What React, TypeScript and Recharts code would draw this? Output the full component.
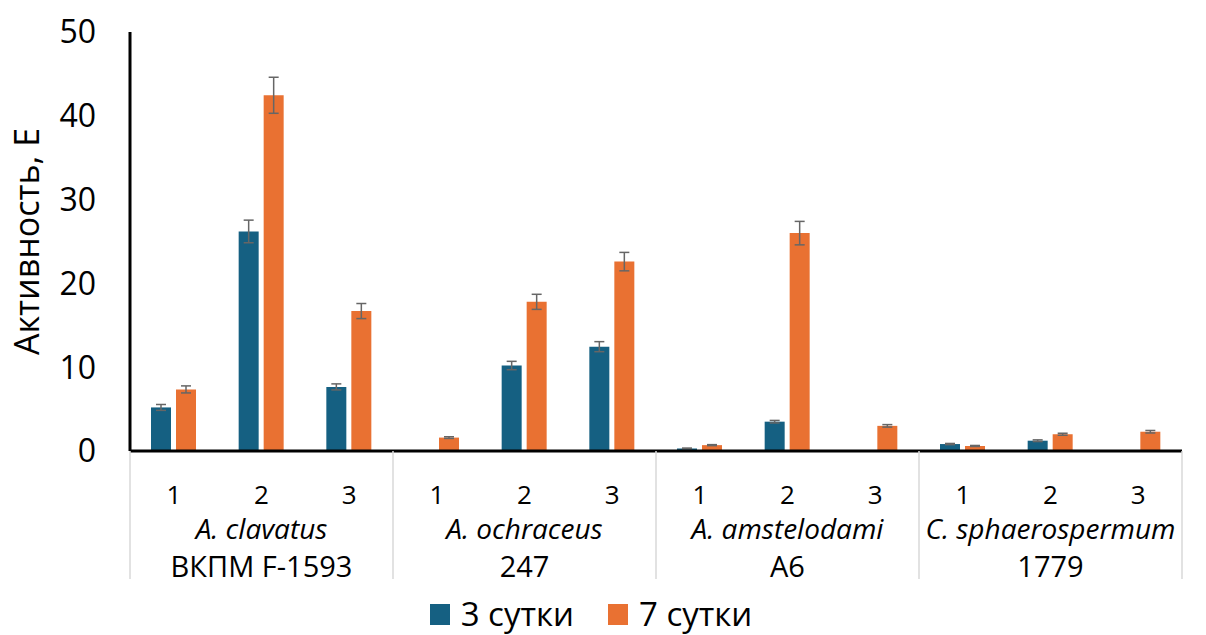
import React from 'react';
import { BarChart, Bar, XAxis, YAxis, ErrorBar, Legend } from 'recharts';

const categories = ['1', '2', '3', '1', '2', '3', '1', '2', '3', '1', '2', '3'];
const species = ['A. clavatus', 'A. ochraceus', 'A. amstelodami', 'C. sphaerospermum'];
const strains = ['ВКПМ F-1593', '247', 'A6', '1779'];
const day3 = [5.2, 26.2, 7.65, null, 10.2, 12.45, 0.3, 3.5, null, 0.83, 1.23, null];
const day3Err = [0.35, 1.35, 0.36, null, 0.5, 0.6, 0.05, 0.15, null, 0.07, 0.1, null];
const day7 = [7.35, 42.45, 16.7, 1.6, 17.8, 22.6, 0.7, 26.0, 3.0, 0.6, 2.0, 2.3];
const day7Err = [0.42, 2.15, 0.9, 0.1, 0.9, 1.1, 0.06, 1.4, 0.15, 0.06, 0.12, 0.15];
const yTicks = [0, 10, 20, 30, 40, 50];
const seriesNames = ['3 сутки', '7 сутки'];

const BLUE = '#156082';
const ORANGE = '#E97132';
const ERR = '#666666';
const FONT = "'Open Sans', 'Liberation Sans', Arial, sans-serif";

const data = categories.map((c, i) => ({
  key: `g${Math.floor(i / 3)}-${c}`,
  label: c,
  d3: day3[i],
  e3: day3Err[i],
  d7: day7[i],
  e7: day7Err[i],
}));

const XTick = (props: any) => {
  const { x, y, payload, index } = props;
  const i = typeof index === 'number' ? index : payload.index;
  const half = payload && typeof payload.offset === 'number' ? payload.offset : 0;
  const g = Math.floor(i / 3);
  const els: any[] = [];
  els.push(
    <text key="n" x={x} y={y + 53} textAnchor="middle" fontSize={26} fill="#000" fontFamily={FONT}>
      {categories[i]}
    </text>
  );
  if (i % 3 === 0) {
    els.push(<line key="s" x1={x - half} x2={x - half} y1={y} y2={y + 128} stroke="#d9d9d9" strokeWidth={1.5} />);
  }
  if (i === categories.length - 1) {
    els.push(<line key="e" x1={x + half} x2={x + half} y1={y} y2={y + 128} stroke="#d9d9d9" strokeWidth={1.5} />);
  }
  if (i % 3 === 1) {
    els.push(
      <text key="sp" x={x} y={y + 88} textAnchor="middle" fontSize={28} fontStyle="italic" fill="#000" fontFamily={FONT}>
        {species[g]}
      </text>
    );
    els.push(
      <text key="st" x={x} y={y + 126} textAnchor="middle" fontSize={29} fill="#000" fontFamily={FONT}>
        {strains[g]}
      </text>
    );
  }
  return <g>{els}</g>;
};

const YTitle = (props: any) => {
  const vb = props.viewBox || { x: 0, y: 32, width: 130, height: 419 };
  const cx = vb.x + 39;
  const cy = vb.y + vb.height / 2;
  return (
    <text x={cx} y={cy} transform={`rotate(-90, ${cx}, ${cy})`} textAnchor="middle" fontSize={34} fill="#000" fontFamily={FONT}>
      Активность, Е
    </text>
  );
};

const LegendContent = (props: any) => {
  const payload = props.payload || [];
  return (
    <div style={{ display: 'flex', justifyContent: 'center', alignItems: 'flex-start', height: 44, fontFamily: FONT, boxSizing: 'border-box', paddingTop: 4 }}>
      {payload.map((p: any, i: number) => (
        <div key={i} style={{ display: 'flex', alignItems: 'center', marginRight: i === 0 ? 34 : 0, height: 38 }}>
          <div style={{ width: 20, height: 21, background: p.color, marginRight: 11 }} />
          <span style={{ fontSize: 33, color: '#000', lineHeight: '38px' }}>{p.value}</span>
        </div>
      ))}
    </div>
  );
};

export default function App() {
  return (
    <div style={{ position: 'absolute', left: 0, top: 0, width: 1206, height: 635, background: '#fff', fontFamily: FONT }}>
      <BarChart
        width={1206}
        height={635}
        data={data}
        margin={{ top: 32, right: 24, left: 0, bottom: 0 }}
        barSize={20}
        barGap={5}
      >
        <XAxis
          dataKey="key"
          interval={0}
          tickLine={false}
          tickSize={0}
          tickMargin={0}
          axisLine={{ stroke: '#000', strokeWidth: 3 }}
          tick={<XTick />}
          height={140}
        />
        <YAxis
          width={130}
          domain={[0, 50]}
          ticks={yTicks}
          interval={0}
          tickLine={false}
          tickSize={0}
          tickMargin={34}
          axisLine={{ stroke: '#000', strokeWidth: 3 }}
          tick={{ fontSize: 32, fill: '#000', fontFamily: FONT }}
          label={{ content: <YTitle /> }}
        />
        <Legend verticalAlign="bottom" align="center" content={<LegendContent />} />
        <Bar dataKey="d3" name={seriesNames[0]} fill={BLUE} isAnimationActive={false}>
          <ErrorBar dataKey="e3" width={5} stroke={ERR} strokeWidth={1.5} />
        </Bar>
        <Bar dataKey="d7" name={seriesNames[1]} fill={ORANGE} isAnimationActive={false}>
          <ErrorBar dataKey="e7" width={5} stroke={ERR} strokeWidth={1.5} />
        </Bar>
      </BarChart>
    </div>
  );
}
